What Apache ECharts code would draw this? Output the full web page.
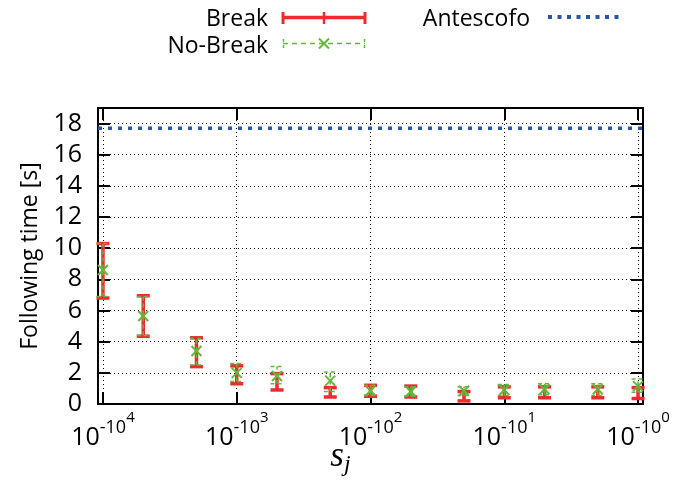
<!DOCTYPE html>
<html><head><meta charset="utf-8">
<script src="https://cdn.jsdelivr.net/npm/echarts@6/dist/echarts.min.js"></script>
<style>html,body{margin:0;padding:0;background:#fff}#c{width:689px;height:483px}</style>
</head><body><div id="c"></div>
<script>
// ---- data ----
const X_VALUES = [1e-4, 2e-4, 5e-4, 1e-3, 2e-3, 5e-3, 1e-2, 2e-2, 5e-2, 1e-1, 2e-1, 5e-1, 1];
const BREAK_MEAN = [8.5, 5.6, 3.35, 1.9, 1.45, 0.75, 0.85, 0.8, 0.55, 0.75, 0.75, 0.75, 0.7];
const BREAK_LOW  = [6.8, 4.35, 2.4, 1.3, 0.9, 0.45, 0.5, 0.45, 0.2, 0.4, 0.4, 0.4, 0.35];
const BREAK_HIGH = [10.3, 6.95, 4.25, 2.45, 1.95, 1.05, 1.2, 1.15, 0.8, 1.1, 1.1, 1.1, 1.05];
const NOBREAK_MEAN = [8.6, 5.65, 3.4, 2.0, 1.8, 1.5, 0.85, 0.8, 0.85, 0.9, 0.95, 0.95, 1.15];
const NOBREAK_LOW  = [6.9, 4.4, 2.5, 1.45, 1.3, 0.8, 0.55, 0.5, 0.55, 0.55, 0.6, 0.55, 0.75];
const NOBREAK_HIGH = [10.3, 6.9, 4.2, 2.6, 2.4, 2.05, 1.2, 1.1, 1.1, 1.25, 1.3, 1.3, 1.6];
const ANTESCOFO = 17.7;
const X_TICKS = [1e-4, 1e-3, 1e-2, 1e-1, 1];
const Y_TICKS = [0, 2, 4, 6, 8, 10, 12, 14, 16, 18];
const X_MIN = 9.18e-5, X_MAX = 1.089;
const Y_MIN = 0, Y_MAX = 19;

const RED = '#ee2a2f', GREEN = '#62b83a', BLUE = '#2756a8';
const SANS = 'Open Sans';

function errRender(o) {
  return function (params, api) {
    const x = api.value(0);
    const pm = api.coord([x, api.value(1)]);
    const pl = api.coord([x, api.value(2)]);
    const ph = api.coord([x, api.value(3)]);
    const hw = o.capHalf;
    const st = {stroke: o.color, lineWidth: o.width, lineDash: o.dash || null, fill: null};
    const ch = [
      {type: 'line', shape: {x1: pl[0], y1: pl[1], x2: ph[0], y2: ph[1]}, style: st},
      {type: 'line', shape: {x1: pl[0] - hw, y1: pl[1], x2: pl[0] + hw, y2: pl[1]}, style: st},
      {type: 'line', shape: {x1: ph[0] - hw, y1: ph[1], x2: ph[0] + hw, y2: ph[1]}, style: st}
    ];
    if (o.cross) {
      const s = o.cross;
      const cs = {stroke: o.color, lineWidth: 2, fill: null};
      ch.push({type: 'line', shape: {x1: pm[0] - s, y1: pm[1] - s, x2: pm[0] + s, y2: pm[1] + s}, style: cs});
      ch.push({type: 'line', shape: {x1: pm[0] - s, y1: pm[1] + s, x2: pm[0] + s, y2: pm[1] - s}, style: cs});
    }
    return {type: 'group', children: ch};
  };
}

const gridLine = {show: true, lineStyle: {color: '#000', width: 1, type: [1, 3]}};
const axisLine = {show: true, onZero: false, lineStyle: {color: '#000', width: 2}};

function xAxisCfg(pos, labels) {
  return {
    type: 'log', logBase: 10, min: X_MIN, max: X_MAX, position: pos,
    axisLine: axisLine,
    axisTick: {show: true, inside: true, length: 12, lineStyle: {color: '#000', width: 2}, customValues: X_TICKS},
    minorTick: {show: false},
    splitLine: labels ? gridLine : {show: false},
    axisLabel: labels ? {
      show: true, customValues: X_TICKS, margin: 6, color: '#000',
      formatter: function (v) {
        const e = Math.round(Math.log10(v));
        return '{b|10}{s1|-10}{s2|' + (-e) + '}';
      },
      rich: {
        b: {fontFamily: SANS, fontSize: 25, color: '#000', verticalAlign: 'bottom'},
        s1: {fontFamily: SANS, fontSize: 18, color: '#000', verticalAlign: 'bottom', padding: [0, 0, 13, 0]},
        s2: {fontFamily: SANS, fontSize: 15, color: '#000', verticalAlign: 'bottom', padding: [0, 0, 25, 0]}
      }
    } : {show: false},
    name: labels ? '{s|s}{j|j}' : '',
    nameLocation: 'middle', nameGap: 35, nameMoveOverlap: false,
    nameTextStyle: labels ? {
      padding: [0, 60, 0, 0],
      rich: {
        s: {fontFamily: 'Liberation Serif', fontStyle: 'italic', fontSize: 35, color: '#000', verticalAlign: 'bottom', padding: [0, 0, 3, 0]},
        j: {fontFamily: 'Liberation Serif', fontStyle: 'italic', fontSize: 24, color: '#000', verticalAlign: 'bottom'}
      }
    } : {}
  };
}

function yAxisCfg(pos, labels) {
  return {
    type: 'value', min: Y_MIN, max: Y_MAX, interval: 2, position: pos,
    axisLine: axisLine,
    axisTick: {show: true, inside: true, length: 12, lineStyle: {color: '#000', width: 2}, customValues: Y_TICKS},
    splitLine: labels ? gridLine : {show: false},
    axisLabel: labels ? {show: true, customValues: Y_TICKS, margin: 16, fontFamily: SANS, fontSize: 25, color: '#000'} : {show: false},
    name: labels ? 'Following time [s]' : '',
    nameLocation: 'middle', nameGap: 56, nameMoveOverlap: false,
    nameTextStyle: {fontFamily: SANS, fontSize: 23, color: '#000'}
  };
}

const chart = echarts.init(document.getElementById('c'), null, {renderer: 'canvas'});
chart.setOption({
  animation: false,
  backgroundColor: '#fff',
  grid: {left: 98, right: 46, top: 108, bottom: 79, containLabel: false, outerBoundsMode: 'none'},
  xAxis: [xAxisCfg('bottom', true), xAxisCfg('top', false)],
  yAxis: [yAxisCfg('left', true), yAxisCfg('right', false)],
  series: [
    {
      type: 'custom', name: 'Break', xAxisIndex: 0, yAxisIndex: 0, z: 3,
      data: X_VALUES.map((x, i) => [x, BREAK_MEAN[i], BREAK_LOW[i], BREAK_HIGH[i]]),
      encode: {x: 0, y: [1, 2, 3]},
      renderItem: errRender({color: RED, width: 3.5, capHalf: 6.5})
    },
    {
      type: 'custom', name: 'No-Break', xAxisIndex: 0, yAxisIndex: 0, z: 4,
      data: X_VALUES.map((x, i) => [x, NOBREAK_MEAN[i], NOBREAK_LOW[i], NOBREAK_HIGH[i]]),
      encode: {x: 0, y: [1, 2, 3]},
      renderItem: errRender({color: GREEN, width: 1.5, capHalf: 6.5, dash: [4, 3], cross: 5})
    },
    {
      type: 'line', name: 'Antescofo', xAxisIndex: 0, yAxisIndex: 0, z: 5,
      data: [[X_MIN, ANTESCOFO], [X_MAX, ANTESCOFO]],
      symbol: 'none', silent: true,
      lineStyle: {color: BLUE, width: 3.5, type: [4, 6]}
    }
  ],
  graphic: [
    {type: 'text', x: 268, y: 19, style: {text: 'Break', font: '23px "' + SANS + '"', fill: '#000', align: 'right', verticalAlign: 'middle'}},
    {type: 'line', shape: {x1: 283, y1: 17.5, x2: 365, y2: 17.5}, style: {stroke: RED, lineWidth: 3.5}},
    {type: 'line', shape: {x1: 283, y1: 12, x2: 283, y2: 24}, style: {stroke: RED, lineWidth: 3}},
    {type: 'line', shape: {x1: 324, y1: 12, x2: 324, y2: 24}, style: {stroke: RED, lineWidth: 2.5}},
    {type: 'line', shape: {x1: 365, y1: 12, x2: 365, y2: 24}, style: {stroke: RED, lineWidth: 3}},
    {type: 'text', x: 268, y: 46, style: {text: 'No-Break', font: '23px "' + SANS + '"', fill: '#000', align: 'right', verticalAlign: 'middle'}},
    {type: 'line', shape: {x1: 283, y1: 43.5, x2: 365, y2: 43.5}, style: {stroke: GREEN, lineWidth: 1.5, lineDash: [5, 4]}},
    {type: 'line', shape: {x1: 283.5, y1: 39, x2: 283.5, y2: 48}, style: {stroke: GREEN, lineWidth: 1.5, lineDash: [3, 3]}},
    {type: 'line', shape: {x1: 364.5, y1: 39, x2: 364.5, y2: 48}, style: {stroke: GREEN, lineWidth: 1.5, lineDash: [3, 3]}},
    {type: 'line', shape: {x1: 319, y1: 38.5, x2: 329, y2: 48.5}, style: {stroke: GREEN, lineWidth: 2}},
    {type: 'line', shape: {x1: 319, y1: 48.5, x2: 329, y2: 38.5}, style: {stroke: GREEN, lineWidth: 2}},
    {type: 'text', x: 530, y: 19, style: {text: 'Antescofo', font: '23px "' + SANS + '"', fill: '#000', align: 'right', verticalAlign: 'middle'}},
    {type: 'line', shape: {x1: 548, y1: 17, x2: 624, y2: 17}, style: {stroke: BLUE, lineWidth: 4, lineDash: [4, 5.5]}}
  ]
});
</script>
</body></html>
